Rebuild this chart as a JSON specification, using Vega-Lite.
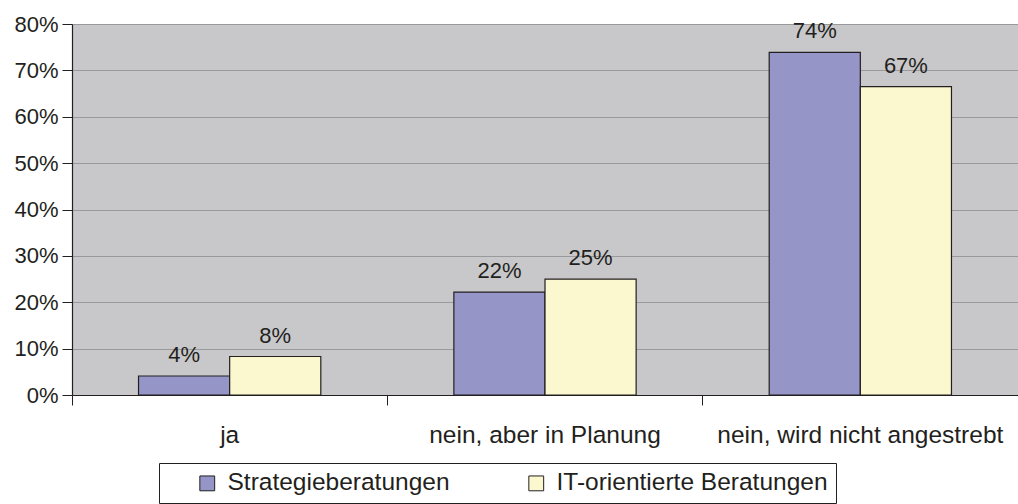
{
  "$schema": "https://vega.github.io/schema/vega-lite/v6.json",
  "width": 946,
  "height": 371,
  "autosize": {"type": "none"},
  "padding": {"left": 72, "top": 24, "right": 0, "bottom": 109},
  "background": "white",
  "config": {
    "font": "Liberation Sans",
    "view": {"fill": "#C8C8CA", "stroke": null},
    "axis": {"labelFont": "Liberation Sans", "labelColor": "#231F20"}
  },
  "data": {
    "values": [
      {"kategorie": "ja", "serie": "Strategieberatungen", "wert": 0.041, "label": "4%"},
      {"kategorie": "ja", "serie": "IT-orientierte Beratungen", "wert": 0.083, "label": "8%"},
      {"kategorie": "nein, aber in Planung", "serie": "Strategieberatungen", "wert": 0.222, "label": "22%"},
      {"kategorie": "nein, aber in Planung", "serie": "IT-orientierte Beratungen", "wert": 0.25, "label": "25%"},
      {"kategorie": "nein, wird nicht angestrebt", "serie": "Strategieberatungen", "wert": 0.739, "label": "74%"},
      {"kategorie": "nein, wird nicht angestrebt", "serie": "IT-orientierte Beratungen", "wert": 0.665, "label": "67%"}
    ]
  },
  "encoding": {
    "x": {
      "field": "kategorie",
      "type": "nominal",
      "sort": null,
      "scale": {"paddingInner": 0, "paddingOuter": 0},
      "axis": {
        "title": null,
        "labelAngle": 0,
        "labelFontSize": 24.5,
        "labelPadding": 18,
        "labelLimit": 0,
        "bandPosition": 0,
        "labelAlign": "center",
        "tickSize": 10,
        "tickColor": "#231F20",
        "domainColor": "#231F20",
        "domainWidth": 1.2,
        "grid": false
      }
    },
    "xOffset": {
      "field": "serie",
      "type": "nominal",
      "sort": ["Strategieberatungen", "IT-orientierte Beratungen"],
      "scale": {"paddingInner": 0, "paddingOuter": 0.73}
    },
    "y": {
      "field": "wert",
      "type": "quantitative",
      "scale": {"domain": [0, 0.8], "nice": false},
      "axis": {
        "title": null,
        "format": ".0%",
        "values": [0, 0.1, 0.2, 0.3, 0.4, 0.5, 0.6, 0.7, 0.8],
        "labelFontSize": 22,
        "labelPadding": 4,
        "tickSize": 10,
        "tickColor": "#231F20",
        "domainColor": "#231F20",
        "domainWidth": 1.2,
        "gridColor": "#9A9A9C",
        "gridWidth": 1
      }
    }
  },
  "layer": [
    {
      "mark": {"type": "bar", "stroke": "#231F20", "strokeWidth": 1.2},
      "encoding": {
        "color": {
          "field": "serie",
          "type": "nominal",
          "sort": ["Strategieberatungen", "IT-orientierte Beratungen"],
          "scale": {"range": ["#9595C8", "#FBF8CF"]},
          "legend": {
            "title": null,
            "orient": "none",
            "direction": "horizontal",
            "legendX": 87,
            "legendY": 439,
            "labelFontSize": 24.5,
            "labelLimit": 0,
            "labelColor": "#231F20",
            "symbolType": "square",
            "symbolSize": 220,
            "symbolStrokeColor": "#231F20",
            "symbolStrokeWidth": 1,
            "symbolOffset": 28,
            "labelOffset": 8,
            "columnPadding": 46,
            "strokeColor": "#231F20",
            "fillColor": "white",
            "padding": 8,
            "offset": 0
          }
        }
      }
    },
    {
      "mark": {"type": "text", "baseline": "alphabetic", "dy": -14, "fontSize": 22, "color": "#231F20"},
      "encoding": {
        "text": {"field": "label"}
      }
    }
  ]
}
